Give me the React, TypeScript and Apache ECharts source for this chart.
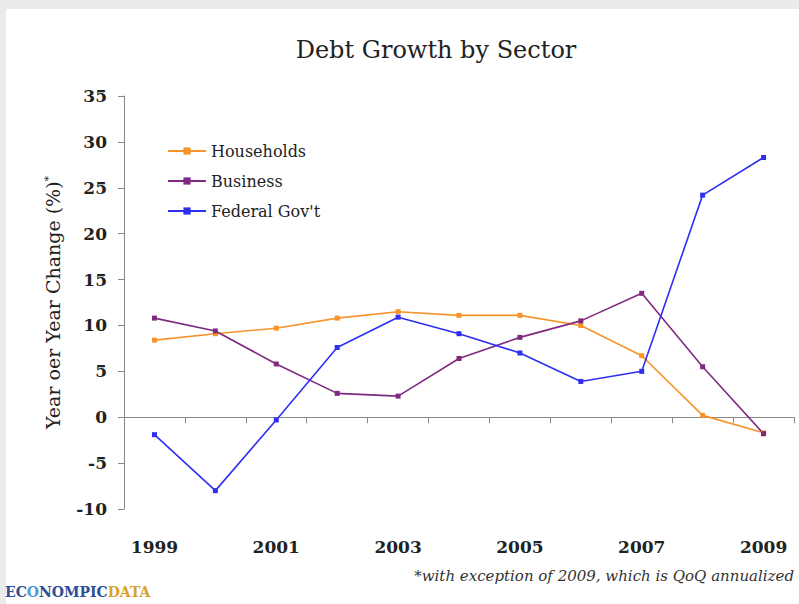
import React, { useEffect, useRef } from "react";
import * as echarts from "echarts";

const years = ["1999", "2000", "2001", "2002", "2003", "2004", "2005", "2006", "2007", "2008", "2009"];
const households = [8.4, 9.1, 9.7, 10.8, 11.5, 11.1, 11.1, 10.0, 6.7, 0.2, -1.7];
const business = [10.8, 9.4, 5.8, 2.6, 2.3, 6.4, 8.7, 10.5, 13.5, 5.5, -1.8];
const federal = [-1.9, -8.0, -0.3, 7.6, 10.9, 9.1, 7.0, 3.9, 5.0, 24.2, 28.3];
const seriesNames = ["Households", "Business", "Federal Gov't"];
const seriesColors = ["#F7932A", "#7F2A80", "#2F2FF2"];

const SERIF = "'DejaVu Serif', 'Liberation Serif', serif";

export default function App() {
  const ref = useRef<HTMLDivElement>(null);
  useEffect(() => {
    document.body.style.margin = "0";
    if (!ref.current) return;
    const chart = echarts.init(ref.current, undefined, { renderer: "svg" });
    const data = [households, business, federal];
    chart.setOption({
      animation: false,
      backgroundColor: "transparent",
      title: {
        text: "Debt Growth by Sector",
        left: 431,
        textAlign: "center",
        top: 33,
        textStyle: { fontFamily: SERIF, fontSize: 24, fontWeight: "normal", color: "#222" },
      },
      legend: {
        orient: "vertical",
        left: 162,
        top: 138,
        itemWidth: 38,
        itemHeight: 9,
        itemGap: 14,
        data: seriesNames,
        textStyle: { fontFamily: SERIF, fontSize: 16, color: "#222" },
      },
      grid: { left: 124, right: 5, top: 96, bottom: 95, containLabel: false },
      xAxis: [
        {
          type: "category",
          data: years,
          boundaryGap: true,
          axisLine: { onZero: true, lineStyle: { color: "#888", width: 1 } },
          axisTick: { show: true, interval: 0, length: 6, lineStyle: { color: "#888" } },
          axisLabel: { show: false },
          splitLine: { show: false },
        },
        {
          type: "category",
          data: years,
          position: "bottom",
          boundaryGap: true,
          axisLine: { show: false },
          axisTick: { show: false },
          axisLabel: {
            interval: 1,
            margin: 29,
            fontFamily: SERIF,
            fontSize: 17,
            fontWeight: "bold",
            color: "#222",
          },
        },
      ],
      yAxis: {
        type: "value",
        min: -10,
        max: 35,
        interval: 5,
        name: "{a|Year oer Year Change (%)}{s|*}",
        nameLocation: "middle",
        nameGap: 62,
        nameRotate: 90,
        nameTextStyle: {
          rich: {
            a: { fontFamily: SERIF, fontSize: 19, color: "#222" },
            s: { fontFamily: SERIF, fontSize: 11, color: "#222", verticalAlign: "top", padding: [0, 0, 8, 0] },
          },
        },
        axisLine: { show: true, lineStyle: { color: "#888", width: 1 } },
        axisTick: { show: true, length: 6, lineStyle: { color: "#888" } },
        axisLabel: { margin: 17, fontFamily: SERIF, fontSize: 17, fontWeight: "bold", color: "#222" },
        splitLine: { show: false },
      },
      series: seriesNames.map((name, i) => ({
        name,
        type: "line",
        xAxisIndex: 0,
        data: data[i],
        symbol: "rect",
        symbolSize: 5,
        color: seriesColors[i],
        lineStyle: { width: 1.6, color: seriesColors[i] },
        itemStyle: { color: seriesColors[i] },
      })),
      graphic: [
        {
          type: "text",
          right: 5,
          top: 568,
          style: {
            text: "*with exception of 2009, which is QoQ annualized",
            font: "italic 15px " + SERIF,
            fill: "#333",
          },
        },
        {
          type: "text",
          left: 5,
          top: 585,
          style: {
            text: "{b|EC}{g|O}{b|NOMPIC}{d|DATA}",
            rich: {
              b: { fontFamily: SERIF, fontSize: 14, fontWeight: "bold", fill: "#2B4E96" },
              g: { fontFamily: SERIF, fontSize: 14, fontWeight: "bold", fill: "#4A9AD8" },
              d: { fontFamily: SERIF, fontSize: 14, fontWeight: "bold", fill: "#D6A22A" },
            },
          },
        },
      ],
    });
    return () => chart.dispose();
  }, []);
  return (
    <div style={{ position: "relative", width: 799, height: 604, background: "#ebebeb", overflow: "hidden" }}>
      <div style={{ position: "absolute", left: 6, top: 9, right: 0, bottom: 0, background: "#fff" }} />
      <div ref={ref} style={{ position: "absolute", left: 0, top: 0, width: 799, height: 604 }} />
    </div>
  );
}
